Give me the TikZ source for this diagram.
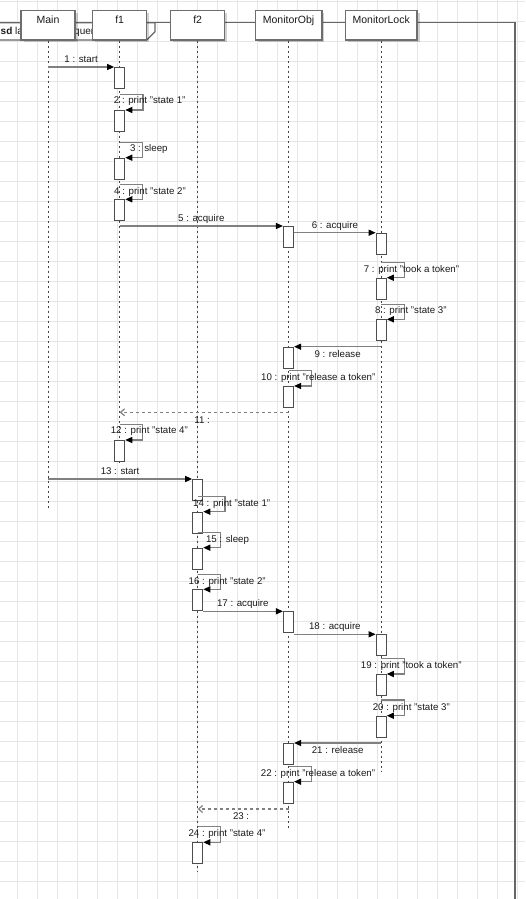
\documentclass[tikz,border=0pt]{standalone}
\usepackage{fontspec}
\setmainfont{Liberation Sans}
\usetikzlibrary{arrows.meta,shadows}
\definecolor{gridc}{HTML}{E6E6E6}
\definecolor{bdc}{HTML}{6E6E6E}
\definecolor{actc}{HTML}{4D4D4D}
\definecolor{lnc}{HTML}{808080}
\definecolor{lifec}{HTML}{444444}
\definecolor{framec}{HTML}{666666}
\definecolor{txtc}{HTML}{1A1A1A}
\begin{document}
\begin{tikzpicture}[x=1pt,y=-1pt,
  head/.style={draw=bdc, line width=1.3pt, fill=white, minimum height=29.3pt, inner sep=0pt,
    drop shadow={shadow xshift=2.5pt,shadow yshift=-2.5pt,opacity=0.18,fill=black}},
  htxt/.style={font=\fontsize{10.5}{12}\selectfont, inner sep=0pt, text height=7.5pt, text depth=2pt, text=txtc},
  act/.style={draw=actc, line width=1.1pt, fill=white, minimum width=10pt, minimum height=21pt, inner sep=0pt, anchor=north},
  life/.style={draw=lifec, line width=0.9pt, dash pattern=on 2.5pt off 2.5pt},
  msg/.style={draw=lnc, line width=1.3pt, -{Triangle[length=7pt,width=6pt,color=black]}},
  ret/.style={draw=lnc, line width=1.2pt, dash pattern=on 3pt off 3pt, -{Straight Barb[length=4pt,width=7pt]}},
  lbl/.style={font=\fontsize{9.7}{11}\selectfont, inner sep=0pt, text height=7pt, text depth=2pt, text=txtc},
]
\useasboundingbox (0,0) rectangle (525,899);
% grid
\foreach \i in {0,...,25} \draw[gridc, line width=0.8pt] (17.3+20*\i,0) -- (17.3+20*\i,899);
\foreach \j in {0,...,44} \draw[gridc, line width=0.8pt] (0,1.7+20*\j) -- (525,1.7+20*\j);
% frame
\draw[framec, line width=1.6pt] (-5,22.7) -- (514.8,22.7) -- (514.8,905);
\draw[framec, line width=1.3pt, fill=white] (-5,22.7) -- (155,22.7) -- (155,31.7) -- (146.7,40) -- (-5,40) -- cycle;
\node[lbl, anchor=west, font=\fontsize{10}{12}\selectfont] (tabA) at (0.5,32.5) {\textbf{sd} la};
\node[lbl, anchor=west, font=\fontsize{10}{12}\selectfont] (tabB) at (74,32.5) {quen};
% lifeline end points
\coordinate (eM) at (48,510);
\coordinate (eF1) at (119.7,465);
\coordinate (eF2) at (197.7,870.7);
\coordinate (eO) at (288.5,830);
\coordinate (eL) at (381.2,771.7);
% headers
\node[head, minimum width=54pt] (hM) at (48,25.35) {};
\node[head, minimum width=54pt] (hF1) at (119.7,25.35) {};
\node[head, minimum width=54pt] (hF2) at (197.7,25.35) {};
\node[head, minimum width=66.7pt] (hO) at (288.5,25.35) {};
\node[head, minimum width=71.7pt] (hL) at (381.2,25.35) {};
\node[htxt] (tM) at (48,20.5) {Main};
\node[htxt] (tF1) at (119.7,20.5) {f1};
\node[htxt] (tF2) at (197.7,20.5) {f2};
\node[htxt] (tO) at (288.5,20.5) {MonitorObj};
\node[htxt] (tL) at (381.2,20.5) {MonitorLock};
% lifelines
\draw[life] (hM.south) -- (eM);
\draw[life] (hF1.south) -- (eF1);
\draw[life] (hF2.south) -- (eF2);
\draw[life] (hO.south) -- (eO);
\draw[life] (hL.south) -- (eL);
% activations
\node[act] (a1) at (119.7,67) {};
\node[act] (a2) at (119.7,110) {};
\node[act] (a3) at (119.7,157.7) {};
\node[act] (a4) at (119.7,199.3) {};
\node[act] (a5) at (288.5,226) {};
\node[act] (a6) at (381.2,232.7) {};
\node[act] (a7) at (381.2,277.7) {};
\node[act] (a8) at (381.2,319.3) {};
\node[act] (a9) at (288.5,346.7) {};
\node[act] (a10) at (288.5,386) {};
\node[act] (a12) at (119.7,440) {};
\node[act] (a13) at (197.7,479) {};
\node[act] (a14) at (197.7,511.7) {};
\node[act] (a15) at (197.7,547.7) {};
\node[act] (a16) at (197.7,589.3) {};
\node[act] (a17) at (288.5,611.3) {};
\node[act] (a18) at (381.2,634.3) {};
\node[act] (a19) at (381.2,674) {};
\node[act] (a20) at (381.2,715.7) {};
\node[act] (a21) at (288.5,743) {};
\node[act] (a22) at (288.5,781.7) {};
\node[act] (a24) at (197.7,842.3) {};
% message start points
\coordinate (s1) at (48,67);
\coordinate (s2) at (119.7,94.3);
\coordinate (s3) at (119.7,142.7);
\coordinate (s4) at (119.7,184.3);
\coordinate (s5) at (119.7,226);
\coordinate (s7) at (381.2,262.3);
\coordinate (s8) at (381.2,304.3);
\coordinate (s9) at (381.2,346.7);
\coordinate (s10) at (288.5,370.7);
\coordinate (s11) at (288.5,412.3);
\coordinate (e11) at (119.7,412.3);
\coordinate (s12) at (119.7,424.7);
\coordinate (s13) at (48,479);
\coordinate (s14) at (197.7,496.7);
\coordinate (s15) at (197.7,532.7);
\coordinate (s16) at (197.7,574.3);
\coordinate (s17) at (202.7,611.3);
\coordinate (s19) at (381.2,658.3);
\coordinate (s20) at (381.2,700);
\coordinate (s21) at (381.2,743);
\coordinate (s22) at (288.5,766.7);
\coordinate (s23) at (288.5,809);
\coordinate (e23) at (197.7,809);
\coordinate (s24) at (197.7,826.7);
% messages
\draw[msg] (s1) -- (a1.north west) node[lbl, midway, yshift=7pt] (l1) {1 : start};
\draw[msg] (s2) -- ++(23.3,0) |- (a2.north east);
\node[lbl] (l2) at (149.7,101) {2 : print "state 1"};
\draw[msg] (s3) -- ++(22.6,0) |- (a3.north east);
\node[lbl] (l3) at (148.8,149.3) {3 : sleep};
\draw[msg] (s4) -- ++(22.8,0) |- (a4.north east);
\node[lbl] (l4) at (150,192) {4 : print "state 2"};
\draw[msg] (s5) -- (a5.north west) node[lbl, midway, yshift=7pt] (l5) {5 : acquire};
\draw[msg] (a5.east |- a6.north) -- (a6.north west) node[lbl, midway, yshift=7pt] (l6) {6 : acquire};
\draw[msg] (s7) -- ++(23.1,0) |- (a7.north east);
\node[lbl] (l7) at (411.5,270) {7 : print "took a token"};
\draw[msg] (s8) -- ++(23.1,0) |- (a8.north east);
\node[lbl] (l8) at (410.8,311) {8 : print "state 3"};
\draw[msg] (s9) -- (a9.north east) node[lbl, midway, yshift=-8.3pt] (l9) {9 : release};
\draw[msg] (s10) -- ++(23.2,0) |- (a10.north east);
\node[lbl] (l10) at (318.3,377.7) {10 : print "release a token"};
\draw[ret] (s11) -- (e11) node[lbl, midway, yshift=-8.3pt, xshift=-2pt] (l11) {11 :};
\draw[msg] (s12) -- ++(22.6,0) |- (a12.north east);
\node[lbl] (l12) at (149.3,431) {12 : print "state 4"};
\draw[msg] (s13) -- (a13.north west) node[lbl, midway, yshift=7pt] (l13) {13 : start};
\draw[msg] (s14) -- ++(27.3,0) |- (a14.north east);
\node[lbl] (l14) at (231.7,504.3) {14 : print "state 1"};
\draw[msg] (s15) -- ++(23,0) |- (a15.north east);
\node[lbl] (l15) at (227.5,540) {15 : sleep};
\draw[msg] (s16) -- ++(23,0) |- (a16.north east);
\node[lbl] (l16) at (227.2,581.7) {16 : print "state 2"};
\draw[msg] (s17) -- (a17.north west) node[lbl, midway, yshift=7pt] (l17) {17 : acquire};
\draw[msg] (a17.east |- a18.north) -- (a18.north west) node[lbl, midway, yshift=7pt] (l18) {18 : acquire};
\draw[msg] (s19) -- ++(23.1,0) |- (a19.north east);
\node[lbl] (l19) at (411.3,666) {19 : print "took a token"};
\draw[msg] (s20) -- ++(23.1,0) |- (a20.north east);
\node[lbl] (l20) at (411.3,707.7) {20 : print "state 3"};
\draw[msg] (s21) -- (a21.north east) node[lbl, midway, yshift=-8.3pt] (l21) {21 : release};
\draw[msg] (s22) -- ++(23.2,0) |- (a22.north east);
\node[lbl] (l22) at (318,773.7) {22 : print "release a token"};
\draw[ret] (s23) -- (e23) node[lbl, midway, yshift=-8.3pt, xshift=-2pt] (l23) {23 :};
\draw[msg] (s24) -- ++(23,0) |- (a24.north east);
\node[lbl] (l24) at (227,833.7) {24 : print "state 4"};
\end{tikzpicture}
\end{document}
